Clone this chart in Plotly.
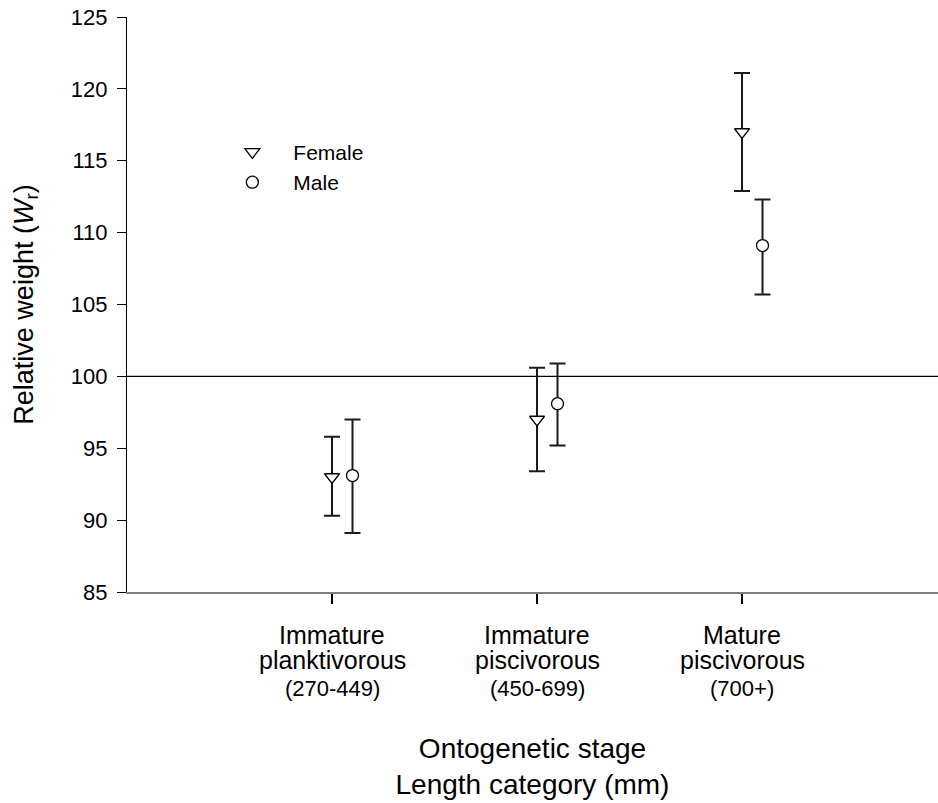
import plotly.graph_objects as go

# ---- data ----
stage_line1 = ["Immature", "Immature", "Mature"]
stage_line2 = ["planktivorous", "piscivorous", "piscivorous"]
length_cat = ["(270-449)", "(450-699)", "(700+)"]
stage_pos = [1, 2, 3]
male_offset = 0.1

female_wr = [93.0, 97.0, 117.0]
female_upper = [95.8, 100.6, 121.1]
female_lower = [90.3, 93.4, 112.9]

male_wr = [93.1, 98.1, 109.1]
male_upper = [97.0, 100.9, 112.3]
male_lower = [89.1, 95.2, 105.7]

y_ticks = [85, 90, 95, 100, 105, 110, 115, 120, 125]
reference_wr = 100

FONT = "Arial, Liberation Sans, sans-serif"

def err(vals, up, lo):
    return dict(type="data", symmetric=False,
                array=[u - v for u, v in zip(up, vals)],
                arrayminus=[v - l for v, l in zip(vals, lo)],
                color="#1a1a1a", thickness=2, width=8)

fig = go.Figure()
fig.add_trace(go.Scatter(
    x=stage_pos, y=female_wr, mode="markers", name="Female",
    marker=dict(symbol="triangle-down", size=13, color="white",
                line=dict(color="black", width=1.3)),
    error_y=err(female_wr, female_upper, female_lower)))
fig.add_trace(go.Scatter(
    x=[p + male_offset for p in stage_pos], y=male_wr, mode="markers", name="Male",
    marker=dict(symbol="circle", size=12, color="white",
                line=dict(color="black", width=1.3)),
    error_y=err(male_wr, male_upper, male_lower)))

fig.add_shape(type="line", xref="paper", x0=0, x1=1, yref="y",
              y0=reference_wr, y1=reference_wr, line=dict(color="black", width=1.2),
              layer="below")

annotations = []
for p, a, b, c in zip(stage_pos, stage_line1, stage_line2, length_cat):
    annotations.append(dict(x=p, y=0, xref="x", yref="paper", text=a, showarrow=False,
                            yanchor="middle", yshift=-43, font=dict(size=25, color="black", family=FONT)))
    annotations.append(dict(x=p, y=0, xref="x", yref="paper", text=b, showarrow=False,
                            yanchor="middle", yshift=-68, font=dict(size=25, color="black", family=FONT)))
    annotations.append(dict(x=p, y=0, xref="x", yref="paper", text=c, showarrow=False,
                            yanchor="middle", yshift=-96, font=dict(size=22, color="black", family=FONT)))

fig.update_layout(
    width=938, height=803,
    margin=dict(l=127, r=0, t=17, b=211),
    plot_bgcolor="white", paper_bgcolor="white",
    font=dict(family=FONT, color="black"),
    showlegend=True,
    legend=dict(x=0.1040, y=0.8004, xref="paper", yref="paper", xanchor="left", yanchor="top",
                font=dict(size=21, family=FONT, color="black"),
                bgcolor="rgba(0,0,0,0)", itemwidth=72, tracegroupgap=0),
    annotations=annotations,
    xaxis=dict(range=[0, 3.956], tickvals=stage_pos, showticklabels=False,
               ticks="outside", ticklen=10, tickwidth=1.5, tickcolor="black",
               showline=True, linecolor="#808080", linewidth=2, showgrid=False,
               zeroline=False,
               title=dict(text="Ontogenetic stage<br>Length category (mm)",
                          font=dict(size=28, family=FONT, color="black"), standoff=135)),
    yaxis=dict(range=[85, 125], tickvals=y_ticks, ticks="outside", ticklen=9,
               tickwidth=1.2, tickcolor="black", showline=True, linecolor="black",
               linewidth=1.2, showgrid=False, zeroline=False,
               tickfont=dict(size=22, family=FONT, color="black"),
               ticklabelstandoff=5,
               title=dict(text="Relative weight (<i>W</i><sub>r</sub>)",
                          font=dict(size=27, family=FONT, color="black"), standoff=29)),
)

fig.write_html("out.html")
